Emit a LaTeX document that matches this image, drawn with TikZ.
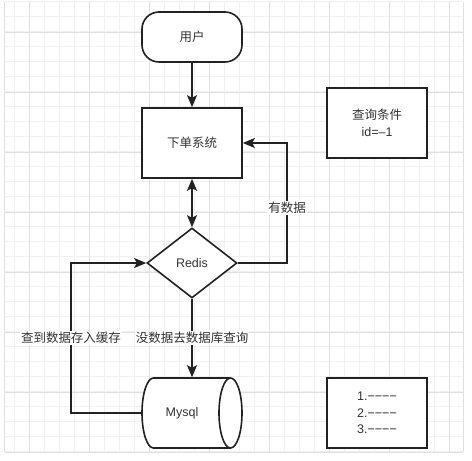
\documentclass[tikz,border=0pt]{standalone}
\usepackage{fontspec}
\setmainfont{Liberation Sans}
\newfontfamily\cjk{Noto Sans CJK SC}
\usetikzlibrary{shapes.geometric,arrows.meta}
\definecolor{inkline}{HTML}{222222}
\definecolor{inktext}{HTML}{333333}
\definecolor{gridminor}{HTML}{F0F0F0}
\definecolor{gridmajor}{HTML}{E0E0E0}

\begin{document}
\begin{tikzpicture}[x=1pt,y=-1pt,
        box/.style={draw=inkline,fill=white,line width=1.6pt,minimum width=100pt,minimum height=70pt,inner sep=2pt},
        terminal/.style={box,minimum height=50pt,rounded corners=17pt},
        decision/.style={draw=inkline,fill=white,line width=1.6pt,diamond,aspect=1.2857,minimum width=90pt,minimum height=70pt,inner sep=0pt},
        slot/.style={minimum width=100pt,minimum height=70pt,inner sep=0pt,outer sep=0.8pt},
        store/.style={draw=inkline,fill=white,line width=1.6pt},
        flow/.style={draw=inkline,line width=1.6pt,-{Stealth[length=12pt,width=10pt,inset=2.5pt]}},
        lbl/.style={fill=white,inner sep=1pt,text=inktext},
        font=\fontsize{12.5}{16.5}\selectfont,text=inktext]

    \useasboundingbox (0,0) rectangle (472,461);

    % grid
    \foreach \x in {14.3,29.3,...,450} {\draw[gridminor,line width=0.8pt] (\x,1.7) -- (\x,452.3);}
    \foreach \y in {1.7,16.7,...,453} {\draw[gridminor,line width=0.8pt] (4.7,\y) -- (463.3,\y);}
    \foreach \x in {29.3,89.3,...,450} {\draw[gridmajor,line width=0.8pt] (\x,1.7) -- (\x,452.3);}
    \foreach \y in {32.3,92.3,...,453} {\draw[gridmajor,line width=0.8pt] (4.7,\y) -- (463.3,\y);}
    \draw[gridmajor,line width=0.8pt] (4.7,1.7) -- (4.7,452.3) (463.3,1.7) -- (463.3,452.3);

    % nodes
    \node[terminal] (user)  at (192,37)  {\cjk 用户};
    \node[box]      (order) at (192,143) {\cjk 下单系统};
    \node[box,align=center] (cond) at (377,123) {\cjk 查询条件\\id=–1};
    \node[decision] (redis) at (192,263) {Redis};
    \node[slot]     (db)    at (192,413) {};
    \node[box,align=center] (list) at (377,413) {1.−−−−\\2.−−−−\\3.−−−−};

    % database drum
    \begin{scope}[shift={(db.center)}]
        \path[store] (-38.5,-35) -- (38.5,-35) arc[start angle=-90,end angle=90,x radius=11.5,y radius=35]
            -- (-38.5,35) arc[start angle=90,end angle=270,x radius=11.5,y radius=35] -- cycle;
        \draw[store,fill=none] (38.5,-35) arc[start angle=-90,end angle=-270,x radius=11.5,y radius=35];
    \end{scope}
    \node (dbname) at ([xshift=-10pt]db.center) {Mysql};

    % connectors
    \draw[flow] (user) -- (order);
    \draw[flow,{Stealth[length=12pt,width=10pt,inset=2.5pt]}-{Stealth[length=12pt,width=10pt,inset=2.5pt]}] (order) -- (redis);
    \coordinate (hit) at (287,263);
    \draw[flow] (redis.east) -- (hit) |- node[lbl,pos=0.23] {\cjk 有数据} (order.east);
    \draw[flow] (redis.south) -- node[lbl] {\cjk 没数据去数据库查询} (db.north);
    \coordinate (back) at (71,413);
    \draw[flow] (db.west) -- (back) |- node[lbl,pos=0.25] {\cjk 查到数据存入缓存} (redis.west);
\end{tikzpicture}
\end{document}
